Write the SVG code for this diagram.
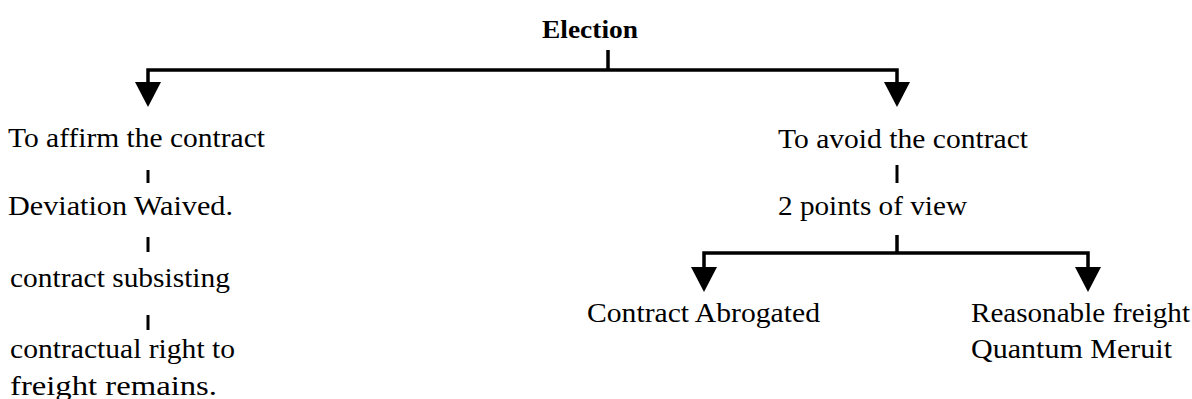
<svg xmlns="http://www.w3.org/2000/svg" width="1192" height="399" viewBox="0 0 1192 399">
<style>
text{font-family:"Liberation Serif","Times New Roman",serif;font-size:27px;fill:#000}
.b{font-weight:bold;font-size:25px}
.ln{fill:none;stroke:#000;stroke-width:3.5}
.tk{fill:none;stroke:#000;stroke-width:3}
</style>
<defs>
<marker id="ah" markerUnits="userSpaceOnUse" markerWidth="26" markerHeight="26" viewBox="0 0 26 26" refX="0" refY="13" orient="auto-start-reverse">
<path d="M0,0 L25,13 L0,26 Z" fill="#000"/>
</marker>
</defs>
<rect width="1192" height="399" fill="#fff"/>
<g id="connectors">
<path class="ln" d="M608,50 V70"/>
<path class="ln" d="M148,82 V70 H897 V82" marker-start="url(#ah)" marker-end="url(#ah)"/>
<path class="tk" d="M148,170 V183"/>
<path class="tk" d="M148,237 V252"/>
<path class="tk" d="M148,315 V330"/>
<path class="tk" d="M897,165 V183"/>
<path class="ln" d="M897,235 V253"/>
<path class="ln" d="M704,267 V253 H1088 V267" marker-start="url(#ah)" marker-end="url(#ah)"/>
</g>
<g id="election"><text class="b" x="542" y="38" textLength="96" lengthAdjust="spacingAndGlyphs">Election</text></g>
<g id="affirm"><text x="8" y="147" textLength="257" lengthAdjust="spacingAndGlyphs">To affirm the contract</text></g>
<g id="waived"><text x="8" y="215" textLength="225" lengthAdjust="spacingAndGlyphs">Deviation Waived.</text></g>
<g id="subsisting"><text x="10" y="287" textLength="220" lengthAdjust="spacingAndGlyphs">contract subsisting</text></g>
<g id="right"><text x="10" y="358" textLength="225" lengthAdjust="spacingAndGlyphs">contractual right to</text><text x="10" y="395" textLength="207" lengthAdjust="spacingAndGlyphs">freight remains.</text></g>
<g id="avoid"><text x="778" y="148" textLength="250" lengthAdjust="spacingAndGlyphs">To avoid the contract</text></g>
<g id="views"><text x="778" y="215" textLength="189" lengthAdjust="spacingAndGlyphs">2 points of view</text></g>
<g id="abrogated"><text x="587" y="322" textLength="233" lengthAdjust="spacingAndGlyphs">Contract Abrogated</text></g>
<g id="meruit"><text x="971" y="322" textLength="219" lengthAdjust="spacingAndGlyphs">Reasonable freight</text><text x="971" y="358" textLength="201" lengthAdjust="spacingAndGlyphs">Quantum Meruit</text></g>
</svg>
